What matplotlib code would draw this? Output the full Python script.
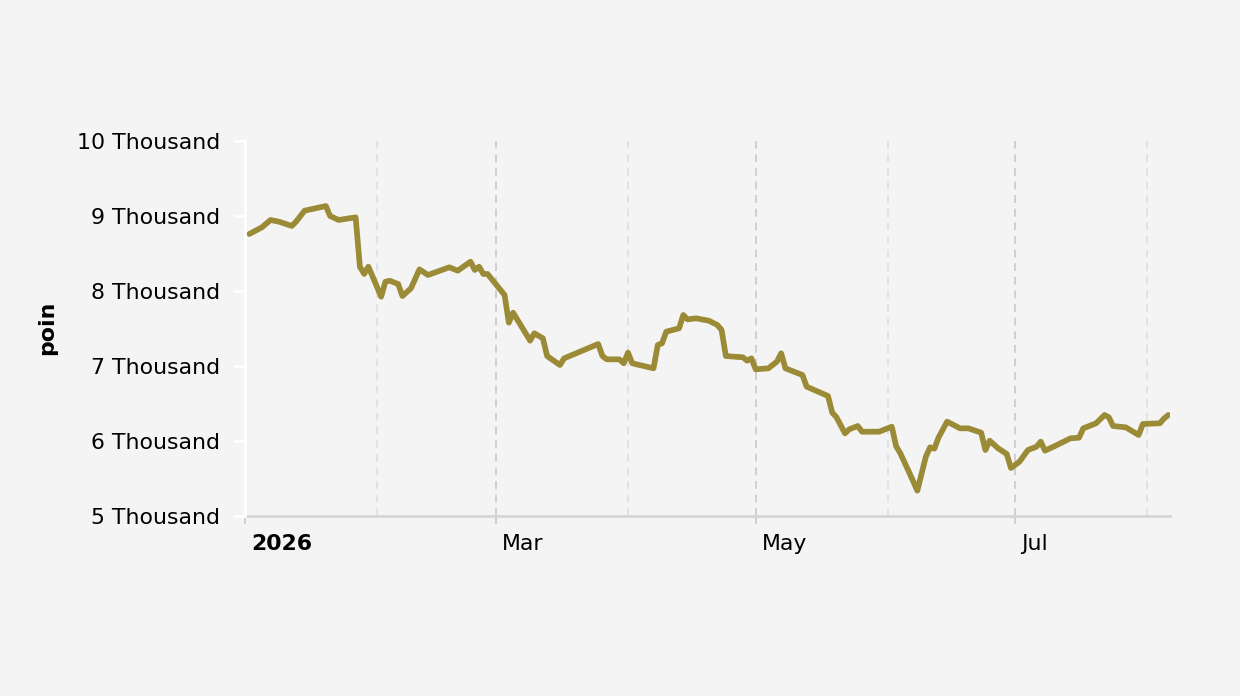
import matplotlib
matplotlib.use("Agg")
import matplotlib.pyplot as plt
import matplotlib.transforms as mtransforms
import numpy as np

dates = ["2026-01-02","2026-01-05","2026-01-07","2026-01-09","2026-01-12","2026-01-13","2026-01-15",
         "2026-01-20","2026-01-21","2026-01-23","2026-01-27","2026-01-28","2026-01-29","2026-01-30",
         "2026-02-02","2026-02-03","2026-02-04","2026-02-06","2026-02-07","2026-02-09","2026-02-11",
         "2026-02-13","2026-02-18","2026-02-20","2026-02-23","2026-02-24","2026-02-25","2026-02-26",
         "2026-02-27","2026-03-03","2026-03-04","2026-03-05","2026-03-09","2026-03-10","2026-03-12",
         "2026-03-13","2026-03-16","2026-03-17","2026-03-25","2026-03-26","2026-03-27","2026-03-30",
         "2026-03-31","2026-04-01","2026-04-02","2026-04-07","2026-04-08","2026-04-09","2026-04-10",
         "2026-04-13","2026-04-14","2026-04-15","2026-04-17","2026-04-20","2026-04-22","2026-04-23",
         "2026-04-24","2026-04-28","2026-04-29","2026-04-30","2026-05-01","2026-05-04","2026-05-06",
         "2026-05-07","2026-05-08","2026-05-12","2026-05-13","2026-05-18","2026-05-19","2026-05-20",
         "2026-05-22","2026-05-23","2026-05-25","2026-05-26","2026-05-30","2026-06-02","2026-06-03",
         "2026-06-04","2026-06-06","2026-06-08","2026-06-10","2026-06-11","2026-06-12","2026-06-13",
         "2026-06-15","2026-06-17","2026-06-18","2026-06-20","2026-06-23","2026-06-24","2026-06-25",
         "2026-06-27","2026-06-29","2026-06-30","2026-07-02","2026-07-04","2026-07-06","2026-07-07",
         "2026-07-08","2026-07-10","2026-07-14","2026-07-16","2026-07-17","2026-07-20","2026-07-22",
         "2026-07-23","2026-07-24","2026-07-27","2026-07-30","2026-07-31","2026-08-04","2026-08-05",
         "2026-08-06"]
values = [8760,8850,8947,8924,8867,8924,9071,
          9133,9000,8947,8982,8324,8227,8324,
          7924,8124,8137,8093,7933,8036,8289,
          8213,8316,8271,8391,8280,8324,8227,
          8227,7947,7578,7711,7338,7436,7369,
          7133,7013,7102,7293,7133,7089,7089,
          7036,7178,7036,6969,7280,7302,7458,
          7502,7680,7622,7636,7604,7547,7480,
          7133,7116,7071,7102,6956,6969,7058,
          7169,6969,6880,6724,6600,6378,6316,
          6102,6156,6200,6124,6124,6191,5933,
          5836,5591,5338,5791,5916,5898,6049,
          6258,6200,6169,6169,6111,5880,6004,
          5902,5827,5640,5724,5880,5924,5991,
          5871,5924,6036,6044,6169,6236,6347,
          6316,6200,6182,6080,6227,6236,6302,
          6347]

y_ticks = [5000, 6000, 7000, 8000, 9000, 10000]
y_tick_labels = ["5 Thousand", "6 Thousand", "7 Thousand", "8 Thousand", "9 Thousand", "10 Thousand"]
major_dates = ["2026-01-01", "2026-03-01", "2026-05-01", "2026-07-01"]
major_labels = ["2026", "Mar", "May", "Jul"]
minor_dates = ["2026-02-01", "2026-04-01", "2026-06-01", "2026-08-01"]
y_label = "poin"

BG = "#f4f4f4"
LINE = "#9b8a36"
FS = 15.8

x = np.array(dates, dtype="datetime64[D]")
fig = plt.figure(figsize=(12.4, 6.96), dpi=100, facecolor=BG)
ax = fig.add_axes([245/1240, 1-516/696, (1170-245)/1240, (516-141)/696])
ax.set_facecolor(BG)

xmaj = np.array(major_dates, dtype="datetime64[D]")
xmin = np.array(minor_dates, dtype="datetime64[D]")
for d in xmaj[1:]:
    ax.axvline(d, color="#cfcfcf", lw=1.4, ls=(0, (4, 3)), zorder=1)
for d in xmin:
    ax.axvline(d, color="#e2e2e2", lw=1.4, ls=(0, (4, 3)), zorder=1)

ax.plot(x, values, color=LINE, lw=4.1, solid_joinstyle="round", solid_capstyle="round", zorder=3)

ax.set_xlim(np.datetime64("2026-01-01T00:00"), np.datetime64("2026-08-06T09:00"))
ax.set_ylim(5000, 10000)

for s in ["top", "right"]:
    ax.spines[s].set_visible(False)
ax.spines["left"].set_color("white")
ax.spines["left"].set_linewidth(2)
ax.spines["bottom"].set_color("#d6d6d6")
ax.spines["bottom"].set_linewidth(2)
ax.spines["left"].set_zorder(4)

ax.set_yticks(y_ticks)
ax.set_yticklabels(y_tick_labels, fontsize=FS)
ax.tick_params(axis="y", colors="white", labelcolor="black", length=8, width=2, pad=10)

ax.set_xticks(xmaj)
ax.set_xticklabels(major_labels, fontsize=FS)
ax.tick_params(axis="x", colors="#cfcfcf", labelcolor="black", length=6, width=1.4, pad=7)
offset = mtransforms.ScaledTranslation(6/100, 0, fig.dpi_scale_trans)
for i, lab in enumerate(ax.get_xticklabels()):
    lab.set_horizontalalignment("left")
    lab.set_transform(lab.get_transform() + offset)
    if i == 0:
        lab.set_fontweight("bold")

fig.text(47/1240, 1-328/696, y_label, rotation=90, ha="center", va="center",
         fontsize=FS, fontweight="bold")

fig.savefig("out.png", dpi=100, facecolor=BG)
